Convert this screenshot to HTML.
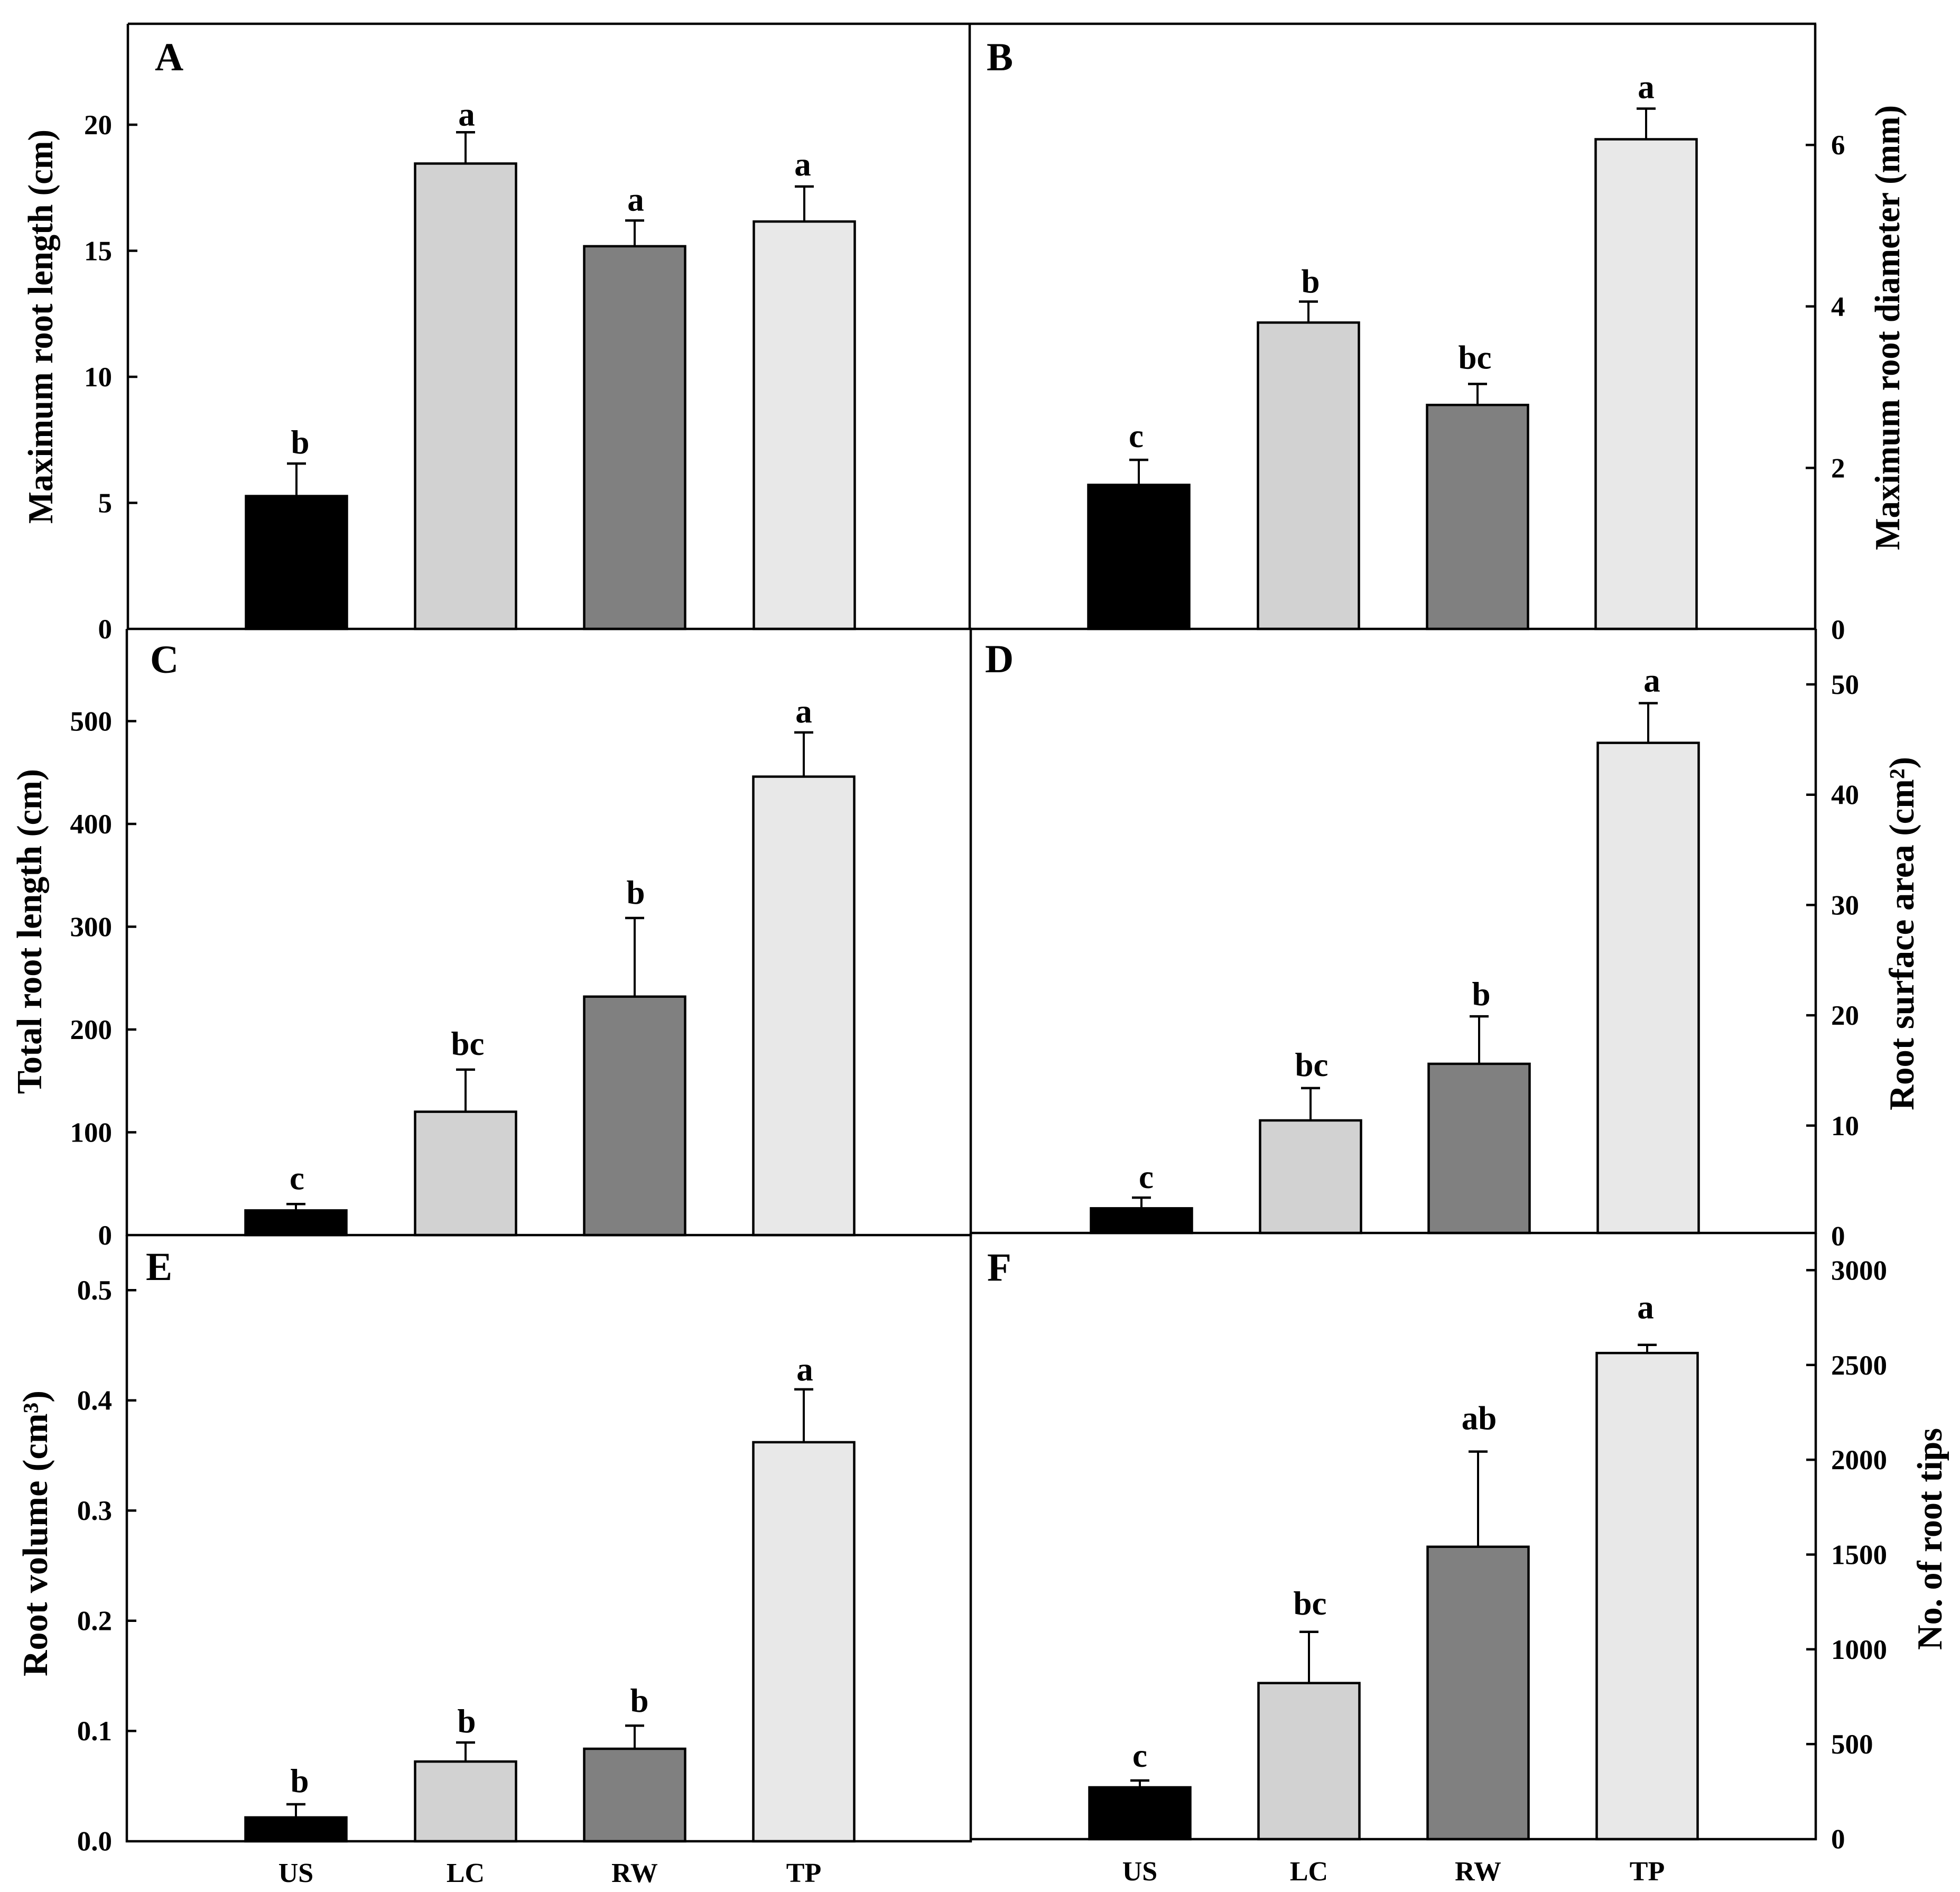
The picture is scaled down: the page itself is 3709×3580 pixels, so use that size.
<!DOCTYPE html>
<html lang="en">
<head>
<meta charset="utf-8">
<title>Root traits bar charts</title>
<style>
html,body{margin:0;padding:0;background:#fff;}
svg{display:block;}
text{font-family:"Liberation Serif","Times New Roman",serif;font-weight:bold;fill:#000;}
</style>
</head>
<body>
<svg id="chart" xmlns="http://www.w3.org/2000/svg" width="3709" height="3580" viewBox="0 0 3709 3580"></svg>
<script>
// ---- data ----
const categories = ['US', 'LC', 'RW', 'TP'];

const meansA = [5.27, 18.46, 15.18, 16.16];
const errorsA = [1.29, 1.24, 1.02, 1.39];
const lettersA = ['b', 'a', 'a', 'a'];
const ticksA = [0, 5, 10, 15, 20];
const tickLabelsA = ['0', '5', '10', '15', '20'];

const meansB = [1.79, 3.80, 2.78, 6.07];
const errorsB = [0.31, 0.26, 0.26, 0.38];
const lettersB = ['c', 'b', 'bc', 'a'];
const ticksB = [0, 2, 4, 6];
const tickLabelsB = ['0', '2', '4', '6'];

const meansC = [24, 120, 232, 446];
const errorsC = [6.2, 41, 76.5, 43];
const lettersC = ['c', 'bc', 'b', 'a'];
const ticksC = [0, 100, 200, 300, 400, 500];
const tickLabelsC = ['0', '100', '200', '300', '400', '500'];

const meansD = [2.5, 10.47, 15.6, 44.7];
const errorsD = [0.97, 2.93, 4.3, 3.6];
const lettersD = ['c', 'bc', 'b', 'a'];
const ticksD = [0, 10, 20, 30, 40, 50];
const tickLabelsD = ['0', '10', '20', '30', '40', '50'];

const meansE = [0.0215, 0.0722, 0.0838, 0.362];
const errorsE = [0.0119, 0.0173, 0.021, 0.048];
const lettersE = ['b', 'b', 'b', 'a'];
const ticksE = [0, 0.1, 0.2, 0.3, 0.4, 0.5];
const tickLabelsE = ['0.0', '0.1', '0.2', '0.3', '0.4', '0.5'];

const meansF = [272, 822, 1541, 2563];
const errorsF = [36, 270, 502, 43];
const lettersF = ['c', 'bc', 'ab', 'a'];
const ticksF = [0, 500, 1000, 1500, 2000, 2500, 3000];
const tickLabelsF = ['0', '500', '1000', '1500', '2000', '2500', '3000'];

// ---- layout ----
const panels = [
  {id:'a', tag:'A', tagX:293, tagY:133, side:'left', axisX:242, top:45, base:1190, zero:1190, perUnit:47.7,
   means:meansA, errors:errorsA, letters:lettersA, ticks:ticksA, tickLabels:tickLabelsA,
   centers:[561,881,1201,1522], gaps:[19,13,19,21], nudges:[5,0,0,-5],
   title:'Maximum root length (cm)', titleX:99, titleY:991, titleLen:746},
  {id:'b', tag:'B', tagX:1867, tagY:133, side:'right', axisX:3435, top:45, base:1190, zero:1191, perUnit:152.8,
   means:meansB, errors:errorsB, letters:lettersB, ticks:ticksB, tickLabels:tickLabelsB,
   centers:[2155,2476,2796,3115], gaps:[24,17,29,20], nudges:[-7,2,-7,-2],
   title:'Maximum root diameter (mm)', titleX:3594, titleY:1041, titleLen:842},
  {id:'c', tag:'C', tagX:284, tagY:1273, side:'left', axisX:240, top:1190, base:2337, zero:2337, perUnit:1.945,
   means:meansC, errors:errorsC, letters:lettersC, ticks:ticksC, tickLabels:tickLabelsC,
   centers:[560,881,1201,1521], gaps:[28,28,27,19], nudges:[0,2,0,-2],
   title:'Total root length (cm)', titleX:78, titleY:2070, titleLen:615},
  {id:'d', tag:'D', tagX:1864, tagY:1272, side:'right', axisX:3436, top:1190, base:2333, zero:2338.5, perUnit:20.87,
   means:meansD, errors:errorsD, letters:lettersD, ticks:ticksD, tickLabels:tickLabelsD,
   centers:[2160,2480,2799,3119], gaps:[18,23,21,22], nudges:[7,0,2,5],
   title:'Root surface area (cm\u00B2)', titleX:3621, titleY:2101, titleLen:669},
  {id:'e', tag:'E', tagX:276, tagY:2422, side:'left', axisX:240, top:2337, base:3484, zero:3483.7, perUnit:2085,
   means:meansE, errors:errorsE, letters:lettersE, ticks:ticksE, tickLabels:tickLabelsE,
   centers:[560,881,1201,1521], gaps:[23,19,26,17], nudges:[5,0,7,0], catY:3561,
   title:'Root volume (cm\u00B3)', titleX:89, titleY:3172, titleLen:541},
  {id:'f', tag:'F', tagX:1868, tagY:2423, side:'right', axisX:3436, top:2333, base:3480, zero:3479.5, perUnit:0.3587,
   means:meansF, errors:errorsF, letters:lettersF, ticks:ticksF, tickLabels:tickLabelsF,
   centers:[2157,2477,2797,3117], gaps:[26,33,42,50], nudges:[-2,0,0,-5], catY:3558,
   title:'No. of root tips', titleX:3674, titleY:3122, titleLen:420}
];
const barFills = ['#000000', '#d2d2d2', '#808080', '#e8e8e8'];
const barWidth = 191;
const capHalf = 18;
const tickLen = 18;

const svg = document.getElementById('chart');
const NS = 'http://www.w3.org/2000/svg';

function make(tag, parent) {
  const node = document.createElementNS(NS, tag);
  parent.appendChild(node);
  return node;
}
function set(node, props) {
  for (const k in props) node.setAttribute(k, props[k]);
  return node;
}
function yScale(p, v) {
  return p.zero - v * p.perUnit;
}

// shared frame lines
const frameLines = [
  ['frame-top-a-b', 242, 45, 3437, 45],
  ['frame-left-a', 242, 45, 242, 1192],
  ['frame-left-c', 240, 1190, 240, 2339],
  ['frame-left-e', 240, 2337, 240, 3486],
  ['frame-mid-ab', 1835, 45, 1835, 1192],
  ['frame-mid-cd', 1837, 1190, 1837, 2339],
  ['frame-mid-ef', 1837, 2333, 1837, 3486],
  ['frame-right-b', 3435, 45, 3435, 1192],
  ['frame-right-d', 3436, 1190, 3436, 2335],
  ['frame-right-f', 3436, 2333, 3436, 3482]
];

panels.forEach(function (p) {
  const g = make('g', svg);
  
  

  // bars and error bars
  p.means.forEach(function (m, i) {
    const cx = p.centers[i];
    const top = yScale(p, m);
    const errTop = yScale(p, m + p.errors[i]);

    const stem = set(make('line', g), {x1:cx, x2:cx, y1:top, y2:errTop, stroke:'#000', 'stroke-width':4});
    
    

    const cap = set(make('line', g), {x1:cx - capHalf, x2:cx + capHalf, y1:errTop, y2:errTop, stroke:'#000', 'stroke-width':4.5});
    
    

    const bar = set(make('rect', g), {x:cx - barWidth / 2, y:top, width:barWidth, height:p.base - top, fill:barFills[i], stroke:'#000', 'stroke-width':4.5});
    
    

    const letter = set(make('text', g), {x:cx + 2 + p.nudges[i], y:errTop - p.gaps[i], 'text-anchor':'middle', 'font-size':63});
    letter.textContent = p.letters[i];
    
    
  });

  // y ticks and labels
  p.ticks.forEach(function (t, i) {
    const y = yScale(p, t);
    if (t !== 0) {
      const dir = p.side === 'left' ? 1 : -1;
      const tick = set(make('line', g), {x1:p.axisX, x2:p.axisX + dir * tickLen, y1:y, y2:y, stroke:'#000', 'stroke-width':4.5});
      
      
    }
    const label = set(make('text', g), {
      x: p.side === 'left' ? 212 : 3465,
      y: y + 18,
      'text-anchor': p.side === 'left' ? 'end' : 'start',
      'font-size': 53
    });
    label.textContent = p.tickLabels[i];
    
    
  });

  // baseline
  const x0 = p.side === 'left' ? p.axisX - 2 : 1835;
  const x1 = p.side === 'left' ? 1839 : p.axisX + 2;
  const baseline = set(make('line', g), {x1:x0, x2:x1, y1:p.base, y2:p.base, stroke:'#000', 'stroke-width':4.5});
  
  

  // panel tag
  const tag = set(make('text', g), {x:p.tagX, y:p.tagY, 'font-size':75});
  tag.textContent = p.tag;
  
  

  // y axis title
  const title = set(make('text', g), {
    transform:'translate(' + p.titleX + ',' + p.titleY + ') rotate(-90)',
    'font-size':67,
    textLength:p.titleLen,
    lengthAdjust:'spacingAndGlyphs'
  });
  title.textContent = p.title;
  
  

  // category labels
  if (p.catY) {
    categories.forEach(function (c, i) {
      const cat = set(make('text', g), {x:p.centers[i], y:p.catY, 'text-anchor':'middle', 'font-size':52});
      cat.textContent = c;
      
      
    });
  }
});

frameLines.forEach(function (f) {
  const line = set(make('line', svg), {x1:f[1], y1:f[2], x2:f[3], y2:f[4], stroke:'#000', 'stroke-width':4.5});
  
  
});
</script>
</body>
</html>
